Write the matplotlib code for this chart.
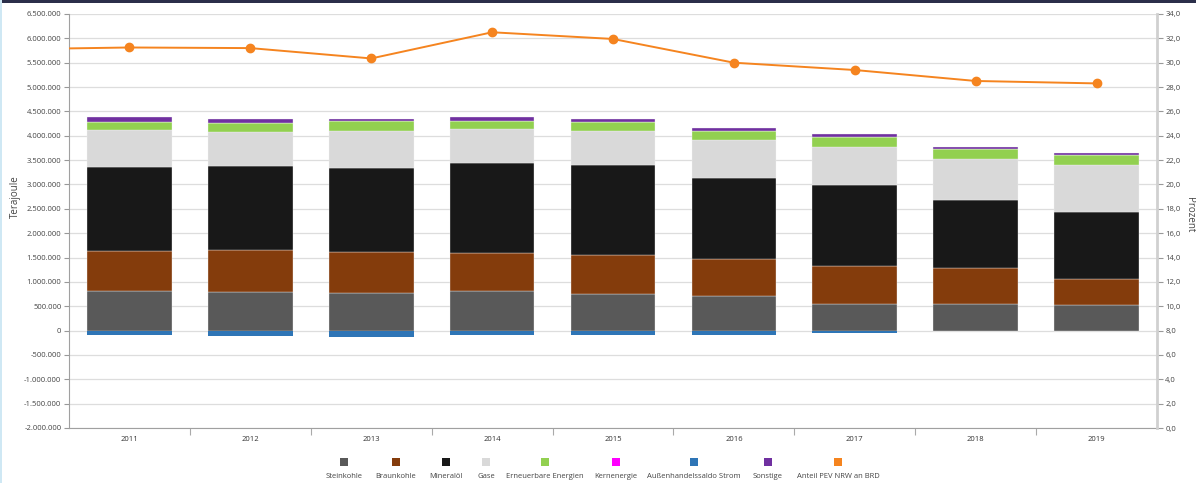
import matplotlib
matplotlib.use("Agg")
from matplotlib import pyplot as plt
from matplotlib.patches import Rectangle
from matplotlib.ticker import FixedLocator, FuncFormatter
import numpy as np

plt.rcParams['font.family'] = ['Open Sans', 'DejaVu Sans']

jahre = ['2011', '2012', '2013', '2014', '2015', '2016', '2017', '2018', '2019']

# Primärenergieverbrauch NRW in Terajoule
steinkohle = [815000, 794000, 781000, 809000, 761000, 706000, 547000, 547000, 527000]
braunkohle = [817000, 864000, 830000, 788000, 795000, 761000, 776000, 735000, 535000]
mineraloel = [1722000, 1716000, 1735000, 1845000, 1839000, 1661000, 1673000, 1399000, 1379000]
gase = [767000, 713000, 761000, 700000, 712000, 788000, 776000, 850000, 954000]
erneuerbare = [165000, 172000, 193000, 171000, 185000, 185000, 212000, 200000, 206000]
kernenergie = [0, 0, 0, 0, 0, 0, 0, 0, 0]
strom_saldo = [-97000, -117000, -131000, -82000, -82000, -96000, -41000, -14000, -10000]
sonstige = [96000, 82000, 48000, 76000, 49000, 62000, 55000, 34000, 54000]

# Anteil PEV NRW an BRD in Prozent (2010 nur als Linienansatz links)
anteil_jahre = ['2010'] + jahre
anteil = [31.1, 31.25, 31.2, 30.35, 32.5, 31.95, 30.0, 29.4, 28.5, 28.3]

positive = [
    ('Steinkohle', steinkohle, '#595959'),
    ('Braunkohle', braunkohle, '#843C0C'),
    ('Mineralöl', mineraloel, '#181818'),
    ('Gase', gase, '#D9D9D9'),
    ('Erneuerbare Energien', erneuerbare, '#92D050'),
    ('Kernenergie', kernenergie, '#FF00FF'),
]
saldo_farbe = '#2E75B6'
sonstige_farbe = '#7030A0'
linie_farbe = '#F5841F'

fig = plt.figure(figsize=(11.96, 4.83), dpi=100)
ax = fig.add_axes([69 / 1196, 55 / 483, 1088 / 1196, 414 / 483])

x = np.arange(len(jahre))
w = 0.70
bottom = np.zeros(len(jahre))
for name, vals, col in positive:
    vals = np.array(vals, dtype=float)
    ax.bar(x, vals, w, bottom=bottom, color=col, edgecolor='#F4F4F4', linewidth=0.25, zorder=2)
    bottom += vals
ax.bar(x, sonstige, w, bottom=bottom, color=sonstige_farbe, edgecolor='#F4F4F4', linewidth=0.25, zorder=2)
ax.bar(x, strom_saldo, w, color=saldo_farbe, linewidth=0, zorder=2)

ax.set_xlim(-0.5, len(jahre) - 0.5)
ax.set_ylim(-2000000, 6500000)
ax.yaxis.set_major_locator(FixedLocator(np.arange(-2000000, 6500001, 500000)))
ax.yaxis.set_major_formatter(FuncFormatter(lambda v, p: f"{int(v):,}".replace(",", ".")))
ax.grid(axis='y', color='#DDDDDD', linewidth=0.9, zorder=0)
ax.set_axisbelow(True)

ax.set_xticks(x)
ax.set_xticklabels(jahre)
ax.set_xticks(np.arange(0.5, len(jahre) - 0.5, 1.0), minor=True)
ax.tick_params(axis='x', which='major', length=0, pad=6, labelsize=5.5, labelcolor='#333333')
ax.tick_params(axis='x', which='minor', length=5, color='#AAAAAA', width=0.8)
ax.tick_params(axis='y', length=3.5, color='#999999', width=0.8, labelsize=5.5, labelcolor='#444444', pad=2)

for s in ['top', 'right']:
    ax.spines[s].set_visible(False)
ax.spines['left'].set_color('#A0A0A0')
ax.spines['bottom'].set_color('#A0A0A0')

ax2 = ax.twinx()
ax2.plot(np.arange(-1, len(jahre)), anteil, color=linie_farbe, linewidth=1.4,
         marker='o', markersize=6, zorder=5)
ax2.set_ylim(0, 34)
ax2.yaxis.set_major_locator(FixedLocator(np.arange(0, 34.1, 2)))
ax2.yaxis.set_major_formatter(FuncFormatter(lambda v, p: f"{v:.1f}".replace(".", ",")))
ax2.tick_params(axis='y', length=4, color='#999999', width=0.8, labelsize=5.5, labelcolor='#444444', pad=2)
for s in ['top', 'left', 'bottom']:
    ax2.spines[s].set_visible(False)
ax2.spines['right'].set_color('#D0D0D0')
ax2.spines['right'].set_linewidth(2)

fig.text(15 / 1196, 1 - 197 / 483, 'Terajoule', rotation=90, ha='center', va='center',
         fontsize=7, color='#444444')
fig.text(1189 / 1196, 1 - 215 / 483, 'Prozent', rotation=270, ha='center', va='center',
         fontsize=7, color='#444444')

# Legende: Quadrat über dem Text
legende = [(n, c) for n, _, c in positive] + [
    ('Außenhandelssaldo Strom', saldo_farbe),
    ('Sonstige', sonstige_farbe),
    ('Anteil PEV NRW an BRD', linie_farbe),
]
leg_x = [344, 396, 446, 486, 545, 616, 694, 768, 838]
for (name, col), px in zip(legende, leg_x):
    fig.add_artist(Rectangle(((px - 4) / 1196, 1 - 466 / 483), 8 / 1196, 8 / 483,
                             transform=fig.transFigure, facecolor=col, edgecolor='none'))
    fig.text(px / 1196, 1 - 476 / 483, name, ha='center', va='center', fontsize=5.5, color='#444444')

# Rahmen oben und links
fig.add_artist(Rectangle((0, 1 - 3 / 483), 1, 3 / 483, transform=fig.transFigure,
                         facecolor='#2B2F4A', edgecolor='none'))
fig.add_artist(Rectangle((0, 0), 2 / 1196, 1, transform=fig.transFigure,
                         facecolor='#CFE8F4', edgecolor='none'))

fig.savefig('out.png', dpi=100)
